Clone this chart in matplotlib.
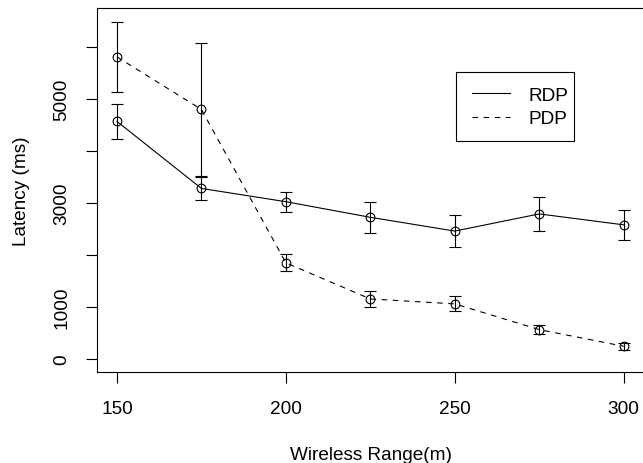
import matplotlib
matplotlib.use("Agg")
import matplotlib.pyplot as plt
from matplotlib.lines import Line2D
from matplotlib.patches import Rectangle

# wireless range (m)
ranges = [150, 175, 200, 225, 250, 275, 300]

# latency means and error half-widths (ms)
rdp_mean = [4570, 3280, 3025, 2725, 2460, 2790, 2580]
rdp_err = [340, 220, 195, 295, 300, 320, 290]
pdp_mean = [5810, 4800, 1850, 1155, 1060, 565, 245]
pdp_err = [675, 1280, 165, 155, 145, 90, 64]

x_ticks = [150, 200, 250, 300]
y_ticks = [0, 1000, 2000, 3000, 4000, 5000, 6000]
y_ticklabels = ["0", "1000", "", "3000", "", "5000", ""]

plt.rcParams['font.family'] = ['Liberation Sans', 'DejaVu Sans']
fs = 13.7

fig = plt.figure(figsize=(6.43, 4.64), dpi=100)
ax = fig.add_axes([97 / 643, 1 - 373 / 464, 547 / 643, 364 / 464])

def draw(mean, err, ls, label):
    ax.errorbar(ranges, mean, yerr=err, color='black', linestyle=ls, linewidth=0.8,
                marker='o', markersize=6.3, markerfacecolor='none', markeredgewidth=0.8,
                capsize=4.5, capthick=0.9, elinewidth=0.8, label=label)

draw(rdp_mean, rdp_err, '-', 'RDP')
draw(pdp_mean, pdp_err, (0, (5, 5)), 'PDP')

ax.set_xlim(144.1, 306.0)
ax.set_ylim(-250, 6750)
ax.set_xticks(x_ticks)
ax.set_xticklabels([str(v) for v in x_ticks])
ax.set_yticks(y_ticks)
ax.set_yticklabels(y_ticklabels, rotation=90, va='center')
ax.tick_params(axis='both', labelsize=fs, length=8, width=0.8, pad=11, direction='out')
ax.tick_params(axis='x', pad=12)
for s in ax.spines.values():
    s.set_linewidth(0.8)

ax.set_xlabel("Wireless Range(m)", fontsize=fs, labelpad=21)
ax.set_ylabel("Latency (ms)", fontsize=fs, labelpad=17)

# legend: lines only, R-style box
handles = [Line2D([], [], color='black', linewidth=0.8, linestyle='-'),
           Line2D([], [], color='black', linewidth=0.8, linestyle=(0, (5, 5)))]
leg = fig.legend(handles, ['RDP', 'PDP'], loc='center left',
                 bbox_to_anchor=(472 / 643, 1 - 108 / 464), fontsize=fs,
                 frameon=False, borderpad=0, handlelength=2.0,
                 handletextpad=0.95, labelspacing=0.3, borderaxespad=0)
fig.add_artist(Rectangle((456 / 643, 1 - 142 / 464), 118 / 643, 69 / 464,
                         transform=fig.transFigure, fill=False,
                         edgecolor='black', linewidth=0.8))

fig.savefig("out.png", dpi=100)
